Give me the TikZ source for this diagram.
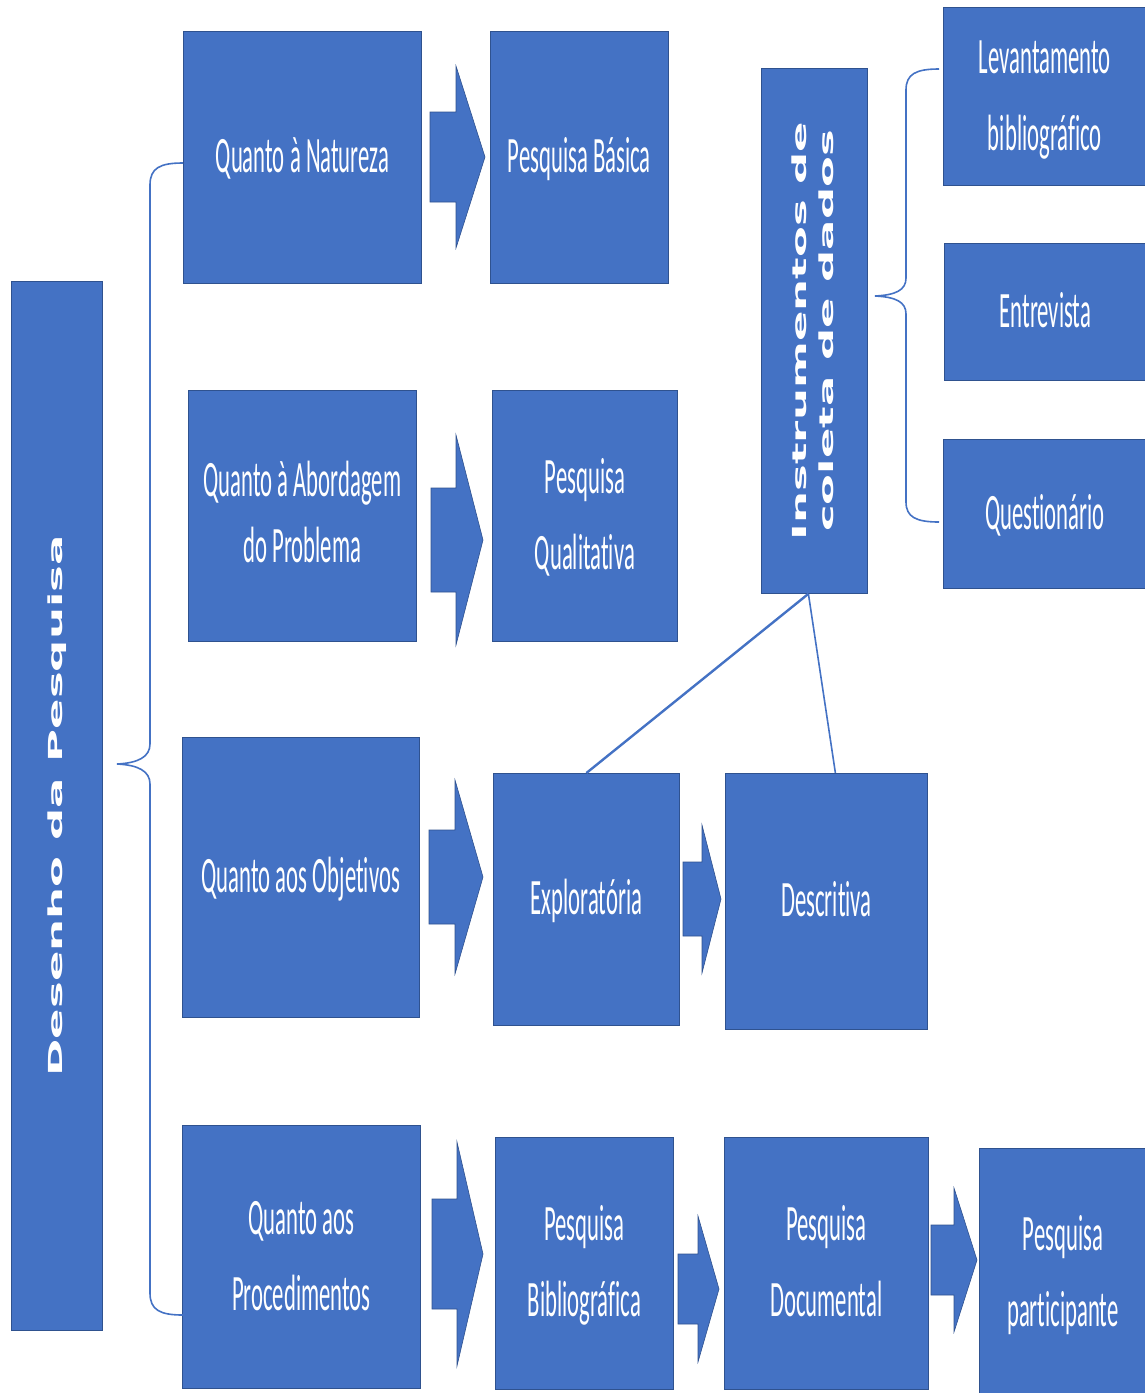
\documentclass[tikz,border=0pt]{standalone}
\usepackage{fontspec}
\usepackage{graphicx}
\setmainfont{Carlito}[Ligatures=NoCommon]
\newfontfamily\vfont{DejaVu Sans}
\usetikzlibrary{calc}
\definecolor{boxblue}{HTML}{4472C4}
\definecolor{boxedge}{HTML}{2F528F}
\newcommand\bt[2][76]{\scalebox{0.445}[1]{\fontsize{51}{#1}\selectfont\begin{tabular}{@{}c@{}}#2\end{tabular}}}
\newcommand\vt[1]{\scalebox{0.43}[1]{\rotatebox{90}{\vfont\bfseries\fontsize{45}{65}\selectfont\begin{tabular}{@{}c@{}}#1\end{tabular}}}}
\newcommand\barrow[6]{\filldraw[blockarrow] (#1,#4-#5) -- (#2,#4-#5) -- (#2,#4-#6) -- (#3,#4) -- (#2,#4+#6) -- (#2,#4+#5) -- (#1,#4+#5) -- cycle;}
\tikzset{
  box/.style={rectangle, fill=boxblue, draw=boxedge, line width=0.8pt, inner sep=0pt, text=white, anchor=north west},
  blockarrow/.style={fill=boxblue, draw=boxedge, line width=0.6pt},
  bracket/.style={draw=boxblue, line width=1.6pt},
  link/.style={draw=boxblue, line width=1.6pt}
}
\begin{document}
\begin{tikzpicture}[x=1pt,y=-1pt]
\useasboundingbox (0,0) rectangle (1144,1393);
% left column
\node[box, minimum width=91, minimum height=1049] (des) at (11,281) {};
\node[text=white] at (des.center) {\vt{Desenho da Pesquisa}};
% row 1
\node[box, minimum width=238, minimum height=252] (nat) at (183,31) {\bt{Quanto à Natureza}};
\node[box, minimum width=178, minimum height=252] (bas) at (490,31) {\bt{Pesquisa Básica}};
% row 2
\node[box, minimum width=228, minimum height=251] (abo) at (188,390) {\bt[66]{Quanto à Abordagem\\do Problema}};
\node[box, minimum width=185, minimum height=251] (qual) at (492,390) {\bt{Pesquisa\\Qualitativa}};
% row 3
\node[box, minimum width=237, minimum height=280] (obj) at (182,737) {\bt{Quanto aos Objetivos}};
\node[box, minimum width=186, minimum height=252] (expl) at (493,773) {\bt{Exploratória}};
\node[box, minimum width=202, minimum height=256] (desc) at (725,773) {\bt{Descritiva}};
% row 4
\node[box, minimum width=238, minimum height=263] (proc) at (182,1125) {\bt{Quanto aos\\Procedimentos}};
\node[box, minimum width=178, minimum height=252] (bib) at (495,1137) {\bt{Pesquisa\\Bibliográfica}};
\node[box, minimum width=204, minimum height=252] (doc) at (724,1137) {\bt{Pesquisa\\Documental}};
\node[box, minimum width=167, minimum height=250] (part) at (979,1148) {\bt{Pesquisa\\participante}};
% instruments
\node[box, minimum width=106, minimum height=525] (inst) at (761,68) {};
\node[text=white] at (inst.center) {\vt{Instrumentos de\\coleta de dados}};
\node[box, minimum width=203, minimum height=178] (lev) at (943,7) {\bt[77]{Levantamento\\bibliográfico}};
\node[box, minimum width=202, minimum height=137] (ent) at (944,243) {\bt{Entrevista}};
\node[box, minimum width=203, minimum height=149] (que) at (943,439) {\bt{Questionário}};
% block arrows
\barrow{430}{456}{485}{157}{45}{91}
\barrow{431}{456}{483}{540}{52}{105}
\barrow{429}{455}{483}{877}{47}{97}
\barrow{683}{702}{721}{899}{37}{74}
\barrow{432}{457}{483}{1254}{55}{112}
\barrow{678}{698}{719}{1289}{35}{73}
\barrow{931}{954}{977}{1260}{35}{72}
% left bracket
\coordinate (lbt) at (183,163);
\coordinate (lbb) at (183,1315);
\coordinate (lbm) at (117,764);
\draw[bracket] (lbt) .. controls (160,163) and (150,168) .. (150,185) -- (150,744)
  .. controls (150,757) and (138,763) .. (lbm)
  .. controls (138,765) and (150,771) .. (150,784) -- (150,1293)
  .. controls (150,1310) and (160,1315) .. (lbb);
% right bracket
\coordinate (rbt) at (939,69);
\coordinate (rbb) at (939,522);
\coordinate (rbm) at (875,296);
\draw[bracket] (rbt) .. controls (916,69) and (906,74) .. (906,90) -- (906,278)
  .. controls (906,290) and (896,295) .. (rbm)
  .. controls (896,297) and (906,302) .. (906,314) -- (906,502)
  .. controls (906,517) and (916,522) .. (rbb);
% links
\coordinate (ib) at ($(inst.south)+(-6,0)$);
\draw[link, line width=2.4pt] (ib) -- (expl.north);
\draw[link] (ib) -- ($(desc.north)+(9,0)$);
\end{tikzpicture}
\end{document}
